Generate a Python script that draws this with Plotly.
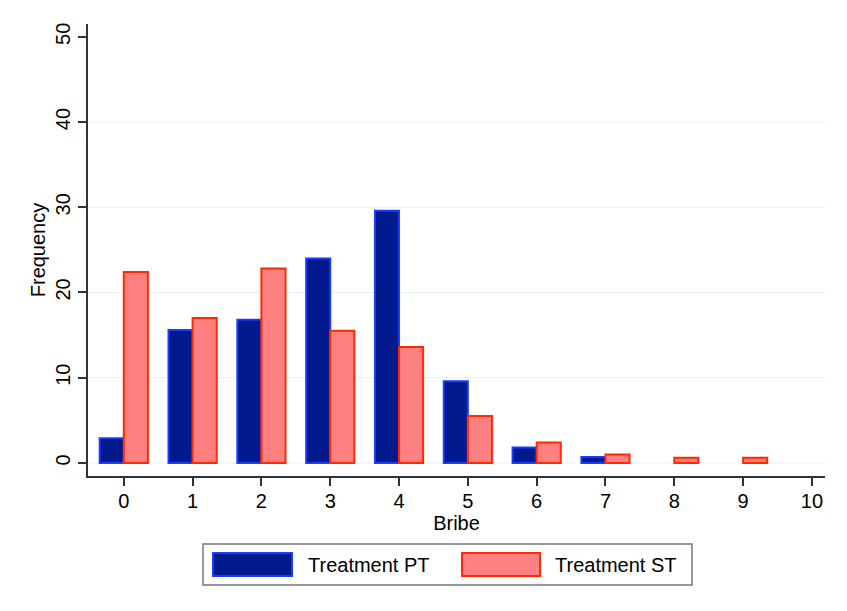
import plotly.graph_objects as go

bribe = [0, 1, 2, 3, 4, 5, 6, 7, 8, 9, 10]
pt_freq = [2.9, 15.6, 16.8, 24.0, 29.6, 9.6, 1.8, 0.7, None, None, None]
st_freq = [22.4, 17.0, 22.8, 15.5, 13.6, 5.5, 2.4, 1.0, 0.6, 0.6, None]
series_names = ["Treatment PT", "Treatment ST"]
y_ticks = [0, 10, 20, 30, 40, 50]

pt_fill, pt_line = "#001a8e", "#1a3cff"
st_fill, st_line = "#ff8080", "#ff2a00"

fig = go.Figure()
fig.add_trace(go.Bar(x=bribe, y=pt_freq, name=series_names[0],
                     marker=dict(color=pt_fill, line=dict(color=pt_line, width=2))))
fig.add_trace(go.Bar(x=bribe, y=st_freq, name=series_names[1],
                     marker=dict(color=st_fill, line=dict(color=st_line, width=2))))

axis_color = "#333333"
font = "Liberation Sans, Arial, Helvetica, sans-serif"

shapes = []
# gridlines (except top)
for t in y_ticks[:-1]:
    shapes.append(dict(type="line", xref="paper", yref="y", x0=0, x1=1, y0=t, y1=t,
                       line=dict(color="#eaf0f0", width=1), layer="below"))

# custom legend (paper coords relative to plot area; screenshot pixel positions)
pw, ph = 737.0, 452.0
def px_x(p):
    return (p - 88) / pw
def px_y(p):
    return (476 - p) / ph

shapes.append(dict(type="rect", xref="paper", yref="paper",
                   x0=px_x(203), x1=px_x(692), y0=px_y(585), y1=px_y(544),
                   line=dict(color="#777777", width=1.5), fillcolor="white"))
shapes.append(dict(type="rect", xref="paper", yref="paper",
                   x0=px_x(213), x1=px_x(292), y0=px_y(576), y1=px_y(553),
                   line=dict(color=pt_line, width=2), fillcolor=pt_fill))
shapes.append(dict(type="rect", xref="paper", yref="paper",
                   x0=px_x(462), x1=px_x(540), y0=px_y(576), y1=px_y(553),
                   line=dict(color=st_line, width=2), fillcolor=st_fill))

annotations = [
    dict(x=px_x(306), y=px_y(565), xref="paper", yref="paper", text=series_names[0],
         showarrow=False, xanchor="left", yanchor="middle",
         font=dict(family=font, size=20, color="black")),
    dict(x=px_x(553), y=px_y(565), xref="paper", yref="paper", text=series_names[1],
         showarrow=False, xanchor="left", yanchor="middle",
         font=dict(family=font, size=20, color="black")),
]

fig.update_layout(
    width=847, height=611,
    margin=dict(l=80, r=30, t=16, b=143),
    paper_bgcolor="white", plot_bgcolor="white",
    barmode="group", bargap=0.3, bargroupgap=0,
    showlegend=False,
    font=dict(family=font, size=20, color="black"),
    shapes=shapes, annotations=annotations,
    xaxis=dict(range=[-0.52, 10.19], tickmode="array", tickvals=bribe,
               ticks="outside", ticklen=8, tickwidth=1.5, tickcolor=axis_color,
               showline=True, linecolor=axis_color, linewidth=1.5,
               showgrid=False, zeroline=False, ticklabelstandoff=-2,
               title=dict(text="Bribe", font=dict(size=20), standoff=1),
               tickfont=dict(size=20)),
    yaxis=dict(range=[-1.53, 51.5], tickmode="array", tickvals=y_ticks,
               ticks="outside", ticklen=8, tickwidth=1.5, tickcolor=axis_color,
               showline=True, linecolor=axis_color, linewidth=1.5,
               showgrid=False, zeroline=False, tickangle=-90,
               title=dict(text="Frequency", font=dict(size=20), standoff=1),
               tickfont=dict(size=20)),
)

fig.write_html("out.html")
